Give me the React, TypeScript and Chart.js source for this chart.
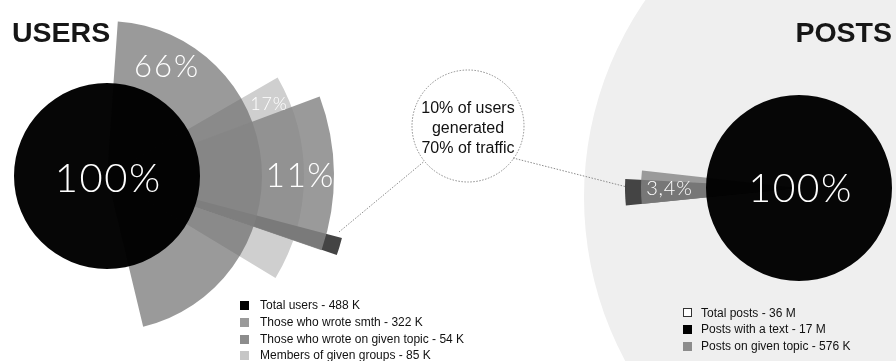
import React, { useEffect, useRef } from 'react';
import { Chart, registerables } from 'chart.js';

Chart.register(...registerables);

// ---------- USERS ----------
const userGroups = ['Total users', 'Those who wrote smth', 'Those who wrote on given topic', 'Members of given groups'];
const userCounts = ['488 K', '322 K', '54 K', '85 K'];
const userShares = ['100%', '66%', '11%', '17%'];
// wedges: start angle (deg clockwise from 12 o'clock), sweep (deg), outer radius
const userStart = [0, 4, 69.5, 60];
const userSweep = [360, 162.5, 39.6, 61.2];
const userRadius = [93, 155, 227, 197];
// highlighted most active users (10% of users)
const topUsersStart = [104.8];
const topUsersSweep = [4.2];
const topUsersRadius = [243];

// ---------- POSTS ----------
const postGroups = ['Total posts', 'Posts with a text', 'Posts on given topic'];
const postCounts = ['36 M', '17 M', '576 K'];
const postShares = ['', '100%', '3,4%'];
const postStart = [0, 0, 264.2];
const postSweep = [360, 360, 12.2];
const postRadius = [347, 93, 158];
// posts generated by the top users (70% of traffic)
const topPostsStart = [264.2];
const topPostsSweep = [8.8];
const topPostsRadius = [174];

const calloutLines = ['10% of users', 'generated', '70% of traffic'];

// ---------- styles ----------
const userFill = ['rgba(0,0,0,0.975)', 'rgba(104,104,104,0.667)', 'rgba(134,134,134,0.83)', '#cfcfcf'];
const userSwatch = ['#000000', '#9a9a9a', '#8c8c8c', '#c6c6c6'];
const postFill = ['#efefef', 'rgba(0,0,0,0.975)', 'rgba(132,132,132,0.8)'];
const postSwatch = ['#ffffff', '#000000', '#8c8c8c'];
const topFill = '#444444';
const CLEAR = 'rgba(0,0,0,0)';

function wedge(label: string, start: number, sweep: number, radius: number, color: string) {
  const values: number[] = [];
  const angles: number[] = [];
  const colors: string[] = [];
  if (start > 0.001) {
    values.push(0);
    angles.push(start);
    colors.push(CLEAR);
  }
  values.push(radius);
  angles.push(sweep);
  colors.push(color);
  const rest = 360 - start - sweep;
  if (rest > 0.001) {
    values.push(0);
    angles.push(rest);
    colors.push(CLEAR);
  }
  return {
    label,
    data: values,
    backgroundColor: colors,
    borderWidth: 0,
    angle: (c: any) => angles[c.dataIndex],
  };
}

type Lbl = { text: string; dx: number; dy: number; size: number; ls: number };

function labelPlugin(labels: Lbl[]) {
  return {
    id: 'pctLabels',
    afterDatasetsDraw(chart: any) {
      const scale = chart.scales.r;
      const cx = scale.xCenter;
      const cy = scale.yCenter;
      const ctx = chart.ctx;
      ctx.save();
      labels.forEach((l) => {
        if (!l.text) return;
        ctx.font = `300 ${l.size}px Lato, "Open Sans", sans-serif`;
        try {
          (ctx as any).letterSpacing = `${l.ls}px`;
        } catch (e) {
          /* ignore */
        }
        ctx.fillStyle = '#ffffff';
        ctx.textAlign = 'center';
        ctx.textBaseline = 'alphabetic';
        ctx.fillText(l.text, cx + l.dx + l.ls / 2, cy + l.dy + l.size * 0.358);
      });
      ctx.restore();
    },
  };
}

function polarOptions(max: number): any {
  return {
    responsive: false,
    animation: false,
    events: [],
    layout: { padding: 0 },
    plugins: { legend: { display: false }, tooltip: { enabled: false } },
    scales: { r: { display: false, min: 0, max, startAngle: 0 } },
  };
}

export default function App() {
  const bgRef = useRef<HTMLCanvasElement>(null);
  const postsRef = useRef<HTMLCanvasElement>(null);
  const usersRef = useRef<HTMLCanvasElement>(null);

  useEffect(() => {
    document.body.style.margin = '0';
    const charts: Chart[] = [];

    // Total posts background circle
    charts.push(
      new Chart(bgRef.current as HTMLCanvasElement, {
        type: 'polarArea',
        data: {
          labels: ['a'],
          datasets: [wedge(postGroups[0], postStart[0], postSweep[0], postRadius[0], postFill[0]) as any],
        },
        options: polarOptions(347),
      })
    );

    // Posts chart
    charts.push(
      new Chart(postsRef.current as HTMLCanvasElement, {
        type: 'polarArea',
        data: {
          labels: ['a', 'b', 'c'],
          datasets: [
            wedge(postGroups[1], postStart[1], postSweep[1], postRadius[1], postFill[1]) as any,
            wedge(postGroups[2], postStart[2], postSweep[2], postRadius[2], postFill[2]) as any,
            wedge('Top users posts', topPostsStart[0], topPostsSweep[0], topPostsRadius[0], topFill) as any,
          ],
        },
        options: polarOptions(200),
        plugins: [
          labelPlugin([
            { text: postShares[1], dx: 1, dy: 0.5, size: 39, ls: 1.5 },
            { text: postShares[2], dx: -130, dy: 0, size: 20, ls: 0.8 },
          ]),
        ],
      })
    );

    // Users chart
    charts.push(
      new Chart(usersRef.current as HTMLCanvasElement, {
        type: 'polarArea',
        data: {
          labels: ['a', 'b', 'c'],
          datasets: [
            wedge(userGroups[0], userStart[0], userSweep[0], userRadius[0], userFill[0]) as any,
            wedge(userGroups[2], userStart[2], userSweep[2], userRadius[2], userFill[2]) as any,
            wedge(userGroups[1], userStart[1], userSweep[1], userRadius[1], userFill[1]) as any,
            wedge('Top users', topUsersStart[0], topUsersSweep[0], topUsersRadius[0], topFill) as any,
            wedge(userGroups[3], userStart[3], userSweep[3], userRadius[3], userFill[3]) as any,
          ],
        },
        options: polarOptions(250),
        plugins: [
          labelPlugin([
            { text: userShares[0], dx: 0.5, dy: 1.5, size: 40, ls: 1.5 },
            { text: userShares[1], dx: 59, dy: -110, size: 31, ls: 2 },
            { text: userShares[3], dx: 161.5, dy: -72.5, size: 18, ls: 0.8 },
            { text: userShares[2], dx: 192.5, dy: -1, size: 33.5, ls: 1.5 },
          ]),
        ],
      })
    );

    return () => charts.forEach((c) => c.destroy());
  }, []);

  const abs: React.CSSProperties = { position: 'absolute' };
  const legendRow = (color: string, text: string, bordered: boolean, gap: number) => (
    <div key={text} style={{ display: 'flex', alignItems: 'center', height: 16.7, lineHeight: '16.7px', whiteSpace: 'nowrap' }}>
      <div
        style={{
          width: 9,
          height: 9,
          boxSizing: 'border-box',
          background: color,
          border: bordered ? '1px solid #333' : 'none',
          marginRight: gap,
          flex: 'none',
        }}
      />
      <span>{text}</span>
    </div>
  );

  const titleStyle: React.CSSProperties = {
    ...abs,
    top: 18,
    fontFamily: '"Liberation Sans", Arial, sans-serif',
    fontWeight: 700,
    fontSize: 28.5,
    lineHeight: '28.5px',
    color: '#161616',
  };

  return (
    <div
      style={{
        position: 'fixed',
        left: 0,
        top: 0,
        width: 896,
        height: 361,
        overflow: 'hidden',
        background: '#ffffff',
        fontFamily: '"Liberation Sans", Arial, sans-serif',
        color: '#111111',
      }}
    >
      <canvas ref={bgRef} width={694} height={694} style={{ ...abs, left: 584, top: -150 }} />
      <canvas ref={postsRef} width={400} height={400} style={{ ...abs, left: 599, top: -12 }} />
      <canvas ref={usersRef} width={500} height={500} style={{ ...abs, left: -143, top: -74 }} />

      <svg width={896} height={361} style={{ ...abs, left: 0, top: 0 }}>
        <circle cx={468} cy={126} r={56} fill="#ffffff" stroke="#8a8a8a" strokeWidth={1} strokeDasharray="1.5 1.5" />
        <line x1={339} y1={232} x2={424} y2={161.5} stroke="#8a8a8a" strokeWidth={1} strokeDasharray="1.5 1.5" />
        <line x1={513} y1={158} x2={625} y2={186.5} stroke="#8a8a8a" strokeWidth={1} strokeDasharray="1.5 1.5" />
      </svg>

      <div
        style={{
          ...abs,
          left: 408,
          top: 98,
          width: 120,
          textAlign: 'center',
          fontSize: 16,
          lineHeight: '20px',
        }}
      >
        {calloutLines.map((l) => (
          <div key={l}>{l}</div>
        ))}
      </div>

      <div style={{ ...titleStyle, left: 12 }}>USERS</div>
      <div style={{ ...titleStyle, right: 4 }}>POSTS</div>

      <div style={{ ...abs, left: 240, top: 297.4, fontSize: 12 }}>
        {userGroups.map((g, i) => legendRow(userSwatch[i], `${g} - ${userCounts[i]}`, false, 11))}
      </div>
      <div style={{ ...abs, left: 683, top: 304.6, fontSize: 12 }}>
        {postGroups.map((g, i) => legendRow(postSwatch[i], `${g} - ${postCounts[i]}`, i === 0, 9))}
      </div>
    </div>
  );
}
